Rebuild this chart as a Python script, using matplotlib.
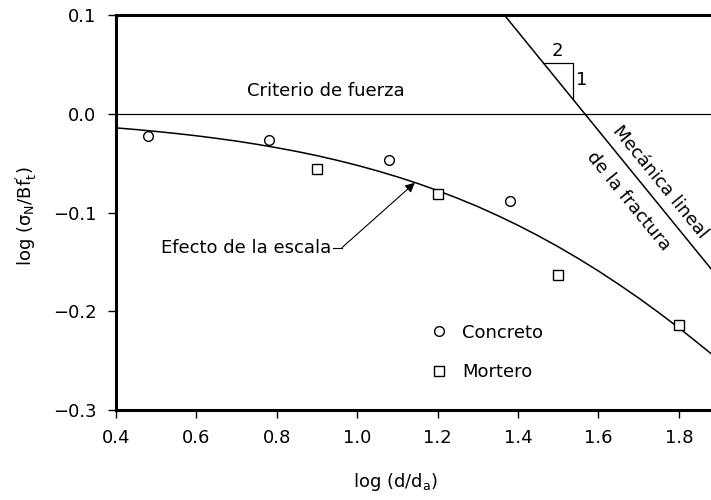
import matplotlib.pyplot as plt

plt.rcParams['font.family'] = ['DejaVu Sans']
plt.rcParams['mathtext.default'] = 'regular'

# ensayos
concreto_x = [0.48, 0.78, 1.08, 1.38]
concreto_y = [-0.023, -0.027, -0.047, -0.088]
mortero_x = [0.90, 1.20, 1.50, 1.80]
mortero_y = [-0.056, -0.081, -0.163, -0.214]

# curva de efecto de escala
curva_x = [0.40, 0.45, 0.50, 0.55, 0.60, 0.65, 0.70, 0.75, 0.80, 0.85,
           0.90, 0.95, 1.00, 1.05, 1.10, 1.15, 1.20, 1.25, 1.30, 1.35,
           1.40, 1.45, 1.50, 1.55, 1.60, 1.65, 1.70, 1.75, 1.80, 1.84,
           1.88]
curva_y = [-0.0143, -0.0160, -0.0179, -0.0200, -0.0223, -0.0249, -0.0277,
           -0.0309, -0.0344, -0.0382, -0.0424, -0.0471, -0.0522, -0.0578,
           -0.0639, -0.0705, -0.0778, -0.0856, -0.0940, -0.1032, -0.1130,
           -0.1235, -0.1347, -0.1466, -0.1592, -0.1726, -0.1866, -0.2014,
           -0.2168, -0.2297, -0.2429]

# mecanica lineal de la fractura, pendiente -1/2
lefm_x = [1.366, 1.88]
lefm_y = [0.100, -0.157]

# triangulo 2:1
tri_x = [1.4617, 1.5363, 1.5363]
tri_y = [0.0516, 0.0516, 0.0149]

fig = plt.figure(figsize=(7.11, 5.0), dpi=100)
ax = fig.add_axes([0.163, 0.18, 0.837, 0.79])

ax.axhline(0.0, color='black', lw=0.9)
ax.plot(curva_x, curva_y, color='black', lw=1.1)
ax.plot(lefm_x, lefm_y, color='black', lw=1.1, clip_on=False)
ax.plot(tri_x, tri_y, color='black', lw=0.9)
ax.text(1.499, 0.054, '2', fontsize=13, ha='center', va='bottom')
ax.text(1.545, 0.034, '1', fontsize=13, ha='left', va='center')

ax.plot(concreto_x, concreto_y, 'o', ms=7, mfc='white', mec='black', mew=1.0,
        label='Concreto')
ax.plot(mortero_x, mortero_y, 's', ms=7, mfc='white', mec='black', mew=1.0,
        label='Mortero')

ax.legend(loc='upper left', bbox_to_anchor=(0.50, 0.26), frameon=False,
          fontsize=13, handletextpad=0.8, labelspacing=1.2,
          handlelength=1.0)

ax.text(0.921, 0.0233, 'Criterio de fuerza', fontsize=13,
        ha='center', va='center')
ax.text(1.7526, -0.0689, 'Mecánica lineal', fontsize=13, rotation=-50.8,
        ha='center', va='center', rotation_mode='anchor')
ax.text(1.6755, -0.0881, 'de la fractura', fontsize=13, rotation=-50.8,
        ha='center', va='center', rotation_mode='anchor')

ax.text(0.935, -0.1357, 'Efecto de la escala', fontsize=13,
        ha='right', va='center')
ax.plot([0.9395, 0.9619], [-0.1357, -0.1357], color='black', lw=0.8)
ax.annotate('', xy=(1.1434, -0.0699), xytext=(0.9619, -0.1357),
            arrowprops=dict(arrowstyle='-|>', color='black', lw=0.8,
                            mutation_scale=14, shrinkA=0, shrinkB=0))

ax.set_xlim(0.4, 1.88)
ax.set_ylim(-0.3, 0.1)
ax.set_xticks([0.4, 0.6, 0.8, 1.0, 1.2, 1.4, 1.6, 1.8])
ax.set_xticklabels(['0.4', '0.6', '0.8', '1.0', '1.2', '1.4', '1.6', '1.8'])
ax.set_yticks([-0.3, -0.2, -0.1, 0.0, 0.1])
ax.set_yticklabels(['\u22120.3', '\u22120.2', '\u22120.1', '0.0', '0.1'])
ax.tick_params(direction='out', length=6, width=1.0, labelsize=13, pad=8)

for s in ['left', 'top', 'bottom']:
    ax.spines[s].set_linewidth(2.2)
ax.spines['right'].set_visible(False)

ax.set_xlabel(r'log $(d/d_a)$', fontsize=13)
ax.xaxis.set_label_coords(0.47, -0.155)
ax.set_ylabel(r"log $(\sigma_N/Bf^{\prime}_t)$", fontsize=13)
ax.yaxis.set_label_coords(-0.13, 0.49)

fig.savefig('out.png', dpi=100)
